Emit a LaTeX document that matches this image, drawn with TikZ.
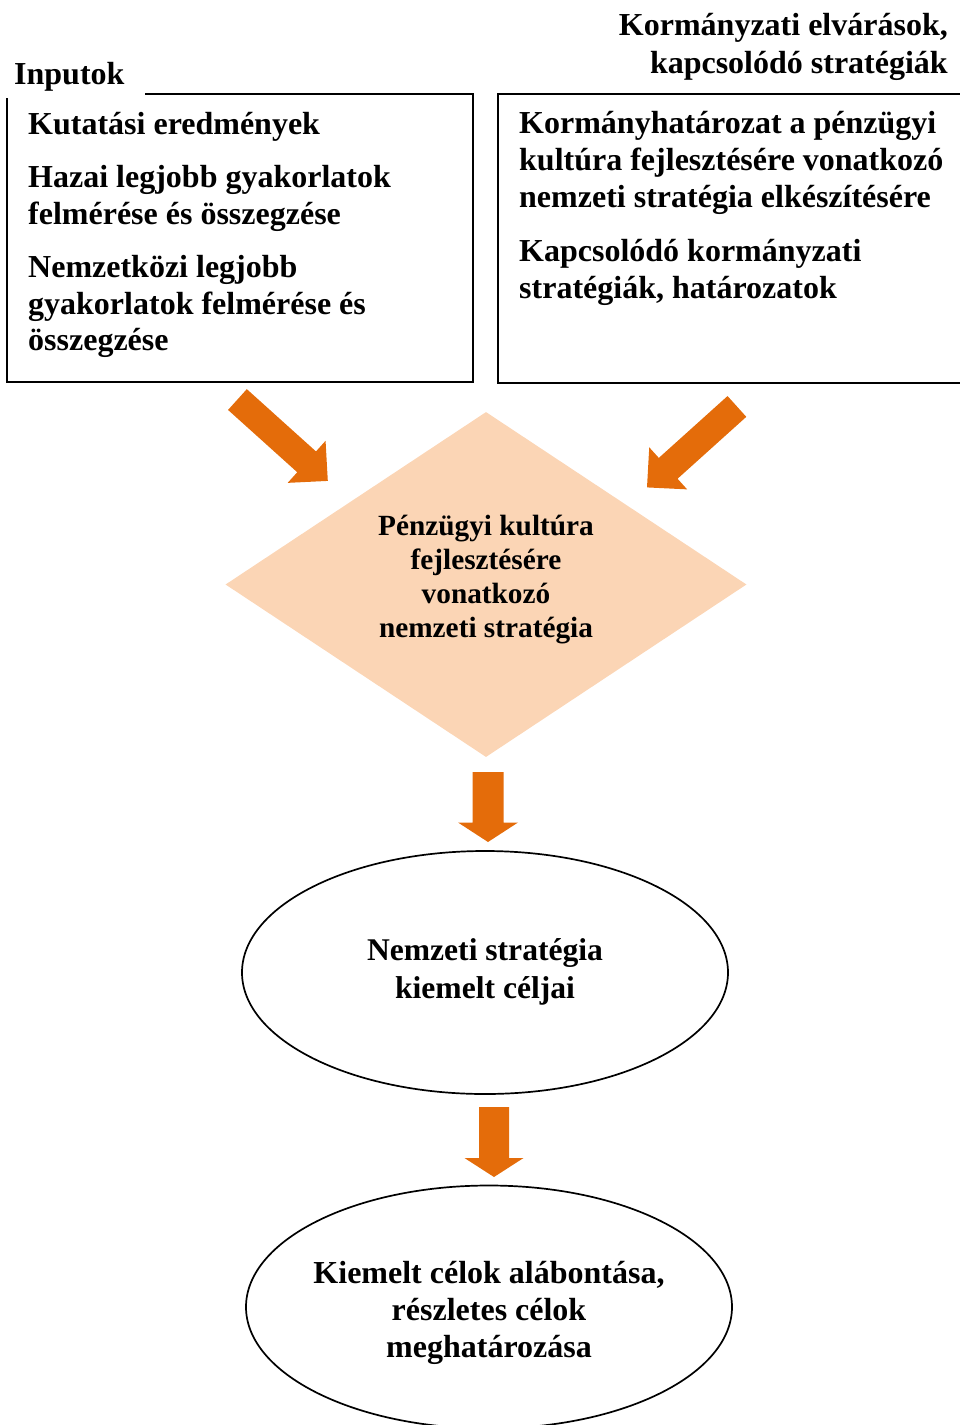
\documentclass[tikz,border=0pt]{standalone}
\usepackage{fontspec}
\setmainfont{Liberation Serif}
\usetikzlibrary{shapes.geometric}
\definecolor{arrowc}{HTML}{E46C0A}
\definecolor{diafill}{HTML}{FBD5B5}
\begin{document}
\begin{tikzpicture}[x=1pt,y=-1pt,
  txt/.style={inner sep=0pt, font=\bfseries\fontsize{32}{36.5}\selectfont},
  frame/.style={line width=1.7pt, draw=black},
  oval/.style={ellipse, frame, inner sep=0pt, minimum width=486pt, minimum height=243pt,
    font=\bfseries\fontsize{32}{37}\selectfont},
  pics/blockarrow/.style n args={4}{code={%
    \fill[arrowc] (0,0) -- ({-#4},{#3/2}) -- ({-#4},{#2/2}) -- ({-#1},{#2/2})
      -- ({-#1},{-#2/2}) -- ({-#4},{-#2/2}) -- ({-#4},{-#3/2}) -- cycle;}}
]
\useasboundingbox (0,0) rectangle (960,1425);

% input box (open at top-left for its label)
\draw[frame] (145,94) -| (473,382) -| (7,98);
\node[txt, anchor=base west] (inputs) at (14,84) {Inputok};
\node[txt, anchor=base west] (inleft) at (28,134) {\begin{tabular}[t]{@{}l@{}}
Kutatási eredmények\\[17pt]
Hazai legjobb gyakorlatok\\
felmérése és összegzése\\[17pt]
Nemzetközi legjobb\\
gyakorlatok felmérése és\\
összegzése\end{tabular}};

% government box
\draw[frame] (498,94) rectangle (975,383);
\node[txt, anchor=base east, font=\bfseries\fontsize{32}{38}\selectfont] (govtitle) at (948,35)
  {\begin{tabular}[t]{@{}r@{}}
Kormányzati elvárások,\\
kapcsolódó stratégiák\end{tabular}};
\node[txt, anchor=base west, font=\bfseries\fontsize{32}{37}\selectfont] (govtext) at (519,133)
  {\begin{tabular}[t]{@{}l@{}}
Kormányhatározat a pénzügyi\\
kultúra fejlesztésére vonatkozó\\
nemzeti stratégia elkészítésére\\[17pt]
Kapcsolódó kormányzati\\
stratégiák, határozatok\end{tabular}};

% central diamond
\node[diamond, fill=diafill, minimum width=521pt, minimum height=345pt, inner sep=0pt,
  font=\bfseries\fontsize{29.3}{34}\selectfont] (strat) at (486,584.5)
  {\makebox[150pt]{\begin{tabular}{@{}c@{}}Pénzügyi kultúra\\fejlesztésére\\vonatkozó\\nemzeti stratégia\\[10pt]\end{tabular}}};

% ellipses
\node[oval, font=\bfseries\fontsize{31.6}{38}\selectfont] (goals) at (485,972.5)
  {\makebox[200pt]{\begin{tabular}{@{}c@{}}Nemzeti stratégia\\kiemelt céljai\\[2pt]\end{tabular}}};
\node[oval] (detail) at (489,1307)
  {\makebox[300pt]{\begin{tabular}{@{}c@{}}\rule{0pt}{39pt}Kiemelt célok alábontása,\\részletes célok\\meghatározása\end{tabular}}};

% block arrows
\coordinate (tipL) at (327.8,480.9);
\coordinate (tipR) at (647,487.4);
\coordinate (tipD1) at (488,842);
\coordinate (tipD2) at (494,1177);
\pic[rotate=-42] at (tipL) {blockarrow={121.6}{28}{56.6}{28.5}};
\pic[rotate=222] at (tipR) {blockarrow={121}{28}{56.6}{28.5}};
\pic[rotate=-90] at (tipD1) {blockarrow={70}{31}{60}{19.5}};
\pic[rotate=-90] at (tipD2) {blockarrow={70}{30}{59}{19}};
\end{tikzpicture}
\end{document}
